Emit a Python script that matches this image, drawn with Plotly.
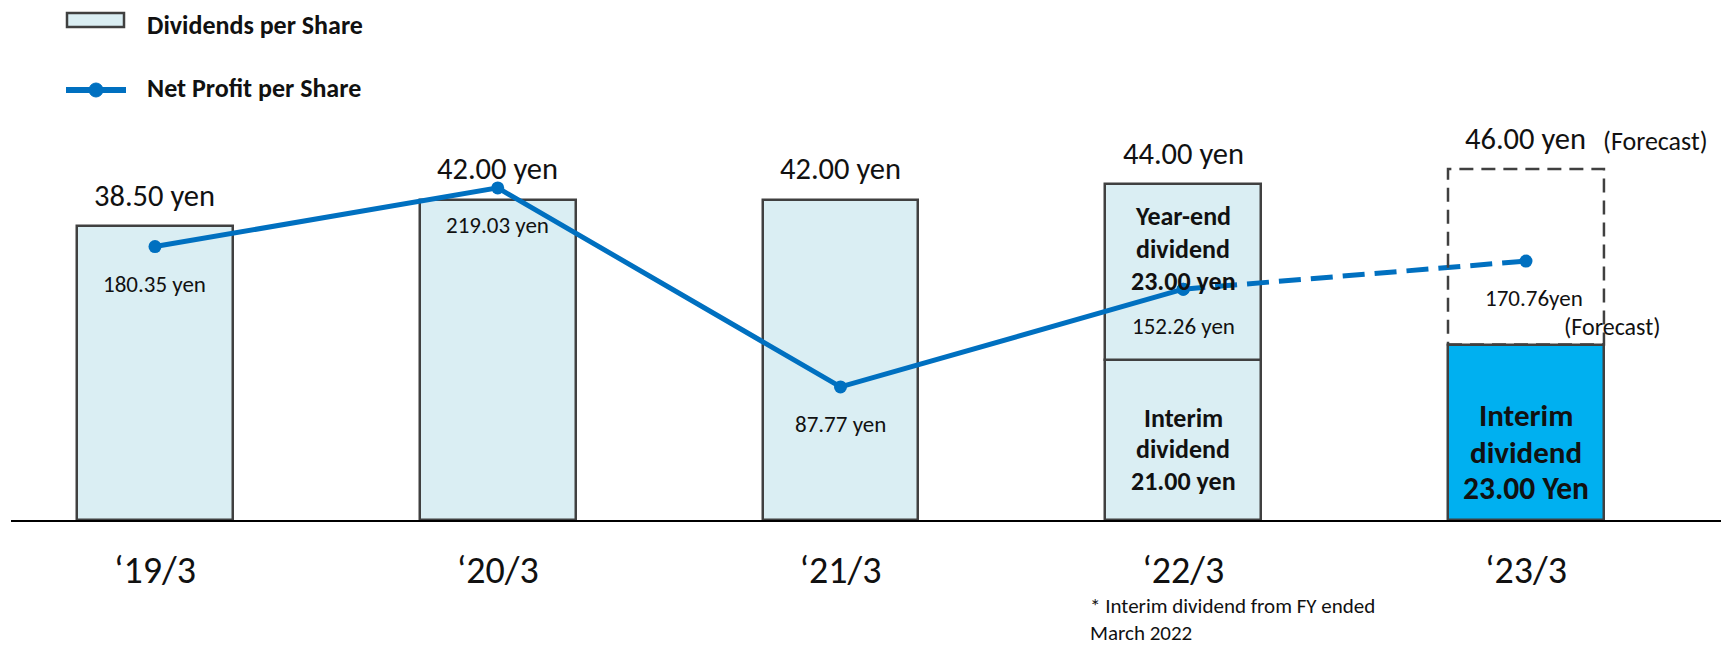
import plotly.graph_objects as go

# ---------------- data ----------------
categories = ["‘19/3", "‘20/3", "‘21/3", "‘22/3", "‘23/3"]
dps_total = [38.50, 42.00, 42.00, 44.00, 46.00]          # dividends per share (yen)
dps_interim = [None, None, None, 21.00, 23.00]           # interim dividend
dps_yearend = [None, None, None, 23.00, None]            # year-end dividend
nps = [180.35, 219.03, 87.77, 152.26, 170.76]            # net profit per share (yen)
nps_labels = ["180.35 yen", "219.03 yen", "87.77 yen", "152.26 yen", "170.76yen"]
total_labels = ["38.50 yen", "42.00 yen", "42.00 yen", "44.00 yen", "46.00 yen"]

# ---------------- style ----------------
W, H = 1721, 649
ML, MR, MT, MB = 11, 0, 100, 129
FONT = "Calibri, Carlito, Lato, sans-serif"
TXT = "#111111"
LIGHT = "#DAEEF3"
EDGE = "#404040"
CYAN = "#00B0F0"
LINE = "#0070C0"
BW = 0.455

xs = list(range(len(categories)))

fig = go.Figure()

# plain full-year bars
full_idx = [i for i in xs if dps_interim[i] is None]
fig.add_trace(go.Bar(
    x=[xs[i] for i in full_idx], y=[dps_total[i] for i in full_idx],
    width=BW, marker=dict(color=LIGHT, line=dict(color=EDGE, width=2.5)),
    showlegend=False, hoverinfo="skip"))

# interim bars
int_idx = [i for i in xs if dps_interim[i] is not None]
int_colors = [LIGHT if dps_yearend[i] is not None else CYAN for i in int_idx]
fig.add_trace(go.Bar(
    x=[xs[i] for i in int_idx], y=[dps_interim[i] for i in int_idx],
    width=BW, marker=dict(color=int_colors, line=dict(color=EDGE, width=2.5)),
    showlegend=False, hoverinfo="skip"))

# year-end bars stacked on interim
ye_idx = [i for i in xs if dps_yearend[i] is not None]
fig.add_trace(go.Bar(
    x=[xs[i] for i in ye_idx], y=[dps_yearend[i] for i in ye_idx],
    base=[dps_interim[i] for i in ye_idx],
    width=BW, marker=dict(color=LIGHT, line=dict(color=EDGE, width=2.5)),
    showlegend=False, hoverinfo="skip"))

# net profit per share line (actual) and forecast (dashed)
fig.add_trace(go.Scatter(
    x=xs[:4], y=nps[:4], yaxis="y2", mode="lines+markers",
    line=dict(color=LINE, width=5), marker=dict(color=LINE, size=13),
    showlegend=False, hoverinfo="skip"))
fig.add_trace(go.Scatter(
    x=xs[3:], y=nps[3:], yaxis="y2", mode="lines+markers",
    line=dict(color=LINE, width=5, dash="22px,10px"), marker=dict(color=LINE, size=13),
    showlegend=False, hoverinfo="skip"))

shapes = []
fc = 4
shapes.append(dict(type="rect", xref="x", yref="y",
                   x0=xs[fc] - BW / 2, x1=xs[fc] + BW / 2,
                   y0=dps_interim[fc], y1=dps_total[fc],
                   line=dict(color=EDGE, width=2.5, dash="14px,8px"),
                   fillcolor="rgba(0,0,0,0)", layer="above"))

annotations = []

def ann(x, y, text, size, xref="x", yref="y", xshift=0, yshift=0,
        xanchor="center", yanchor="middle", bold=False, align="center"):
    annotations.append(dict(x=x, y=y, xref=xref, yref=yref,
                            text=f"<b>{text}</b>" if bold else text,
                            showarrow=False, xanchor=xanchor, yanchor=yanchor,
                            xshift=xshift, yshift=yshift, align=align,
                            font=dict(family=FONT, size=size, color=TXT)))

# total dividend labels
for i in xs:
    ann(xs[i], dps_total[i], total_labels[i], 30.5, yshift=31)
ann(xs[4], dps_total[4], "(Forecast)", 26, xshift=130, yshift=28)

# net profit labels
for i in xs:
    ann(xs[i], nps[i], nps_labels[i], 23, yref="y2",
        xshift=0 if i < 4 else 8, yshift=-37)
ann(xs[4], nps[4], "(Forecast)", 24, yref="y2", xshift=87, yshift=-65)

# in-bar labels (one annotation per line for exact spacing)
ye_mid = dps_interim[3] + dps_yearend[3] / 2
for k, t in enumerate(["Year-end", "dividend", f"{dps_yearend[3]:.2f} yen"]):
    ann(xs[3], ye_mid, t, 26, yshift=56 - 32.5 * k, bold=True)
in_mid = dps_interim[3] / 2
for k, t in enumerate(["Interim", "dividend", f"{dps_interim[3]:.2f} yen"]):
    ann(xs[3], in_mid, t, 26, yshift=22 - 31.5 * k, bold=True)
in_mid4 = dps_interim[4] / 2
for k, (t, s) in enumerate([("Interim", 31), ("dividend", 31), (f"{dps_interim[4]:.2f} Yen", 31.5)]):
    ann(xs[4], in_mid4, t, s, yshift=17 - 36.5 * k, bold=True)

# footnote
PW, PH = W - ML - MR, H - MT - MB
def px(x):
    return (x - ML) / PW
def py(y):
    return (H - MB - y) / PH

ann(px(1088), py(648), "* Interim dividend from FY ended<br>March 2022", 21,
    xref="paper", yref="paper", xanchor="left", yanchor="bottom", align="left")

# manual legend
shapes.append(dict(type="rect", xref="paper", yref="paper",
                   x0=px(67), x1=px(124), y0=py(27), y1=py(13),
                   fillcolor=LIGHT, line=dict(color=EDGE, width=2.5)))
shapes.append(dict(type="line", xref="paper", yref="paper",
                   x0=px(66), x1=px(126), y0=py(90), y1=py(90),
                   line=dict(color=LINE, width=6)))
shapes.append(dict(type="circle", xref="paper", yref="paper",
                   x0=px(89), x1=px(103), y0=py(97), y1=py(83),
                   fillcolor=LINE, line=dict(color=LINE, width=1)))
ann(px(145), py(25), "Dividends per Share", 26, xref="paper", yref="paper", xanchor="left", bold=True)
ann(px(145), py(88), "Net Profit per Share", 26, xref="paper", yref="paper", xanchor="left", bold=True)

fig.update_layout(
    width=W, height=H,
    margin=dict(l=ML, r=MR, t=MT, b=MB, pad=0),
    paper_bgcolor="white", plot_bgcolor="white",
    barmode="overlay", bargap=0,
    showlegend=False,
    xaxis=dict(range=[-0.4201, 4.569], tickmode="array", tickvals=xs, ticktext=categories,
               showline=True, linecolor="black", linewidth=2, showgrid=False, zeroline=False,
               ticks="", ticklabelstandoff=15,
               tickfont=dict(family=FONT, size=38, color=TXT)),
    yaxis=dict(range=[0, 55.05], visible=False, showgrid=False, zeroline=False),
    yaxis2=dict(range=[0, 277.0], overlaying="y", visible=False, showgrid=False, zeroline=False),
    shapes=shapes, annotations=annotations,
)

fig.write_html("out.html")
